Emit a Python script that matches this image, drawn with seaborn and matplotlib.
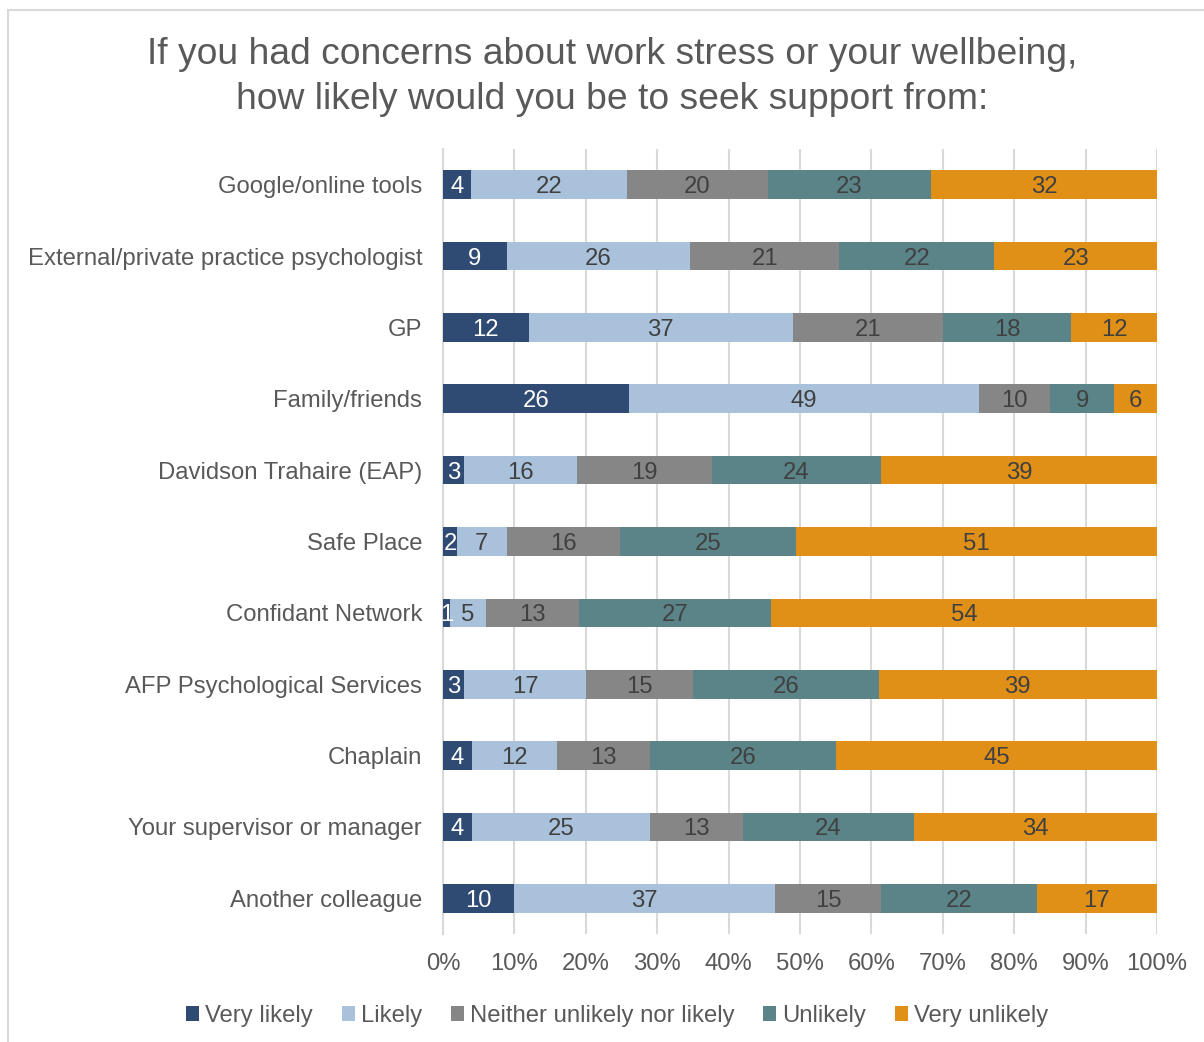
import numpy as np
import pandas as pd
import matplotlib
matplotlib.use("Agg")
import matplotlib.pyplot as plt
from matplotlib.patches import Patch, Rectangle
import seaborn as sns

# Survey items (top to bottom) and response counts in percent
items = [
    "Google/online tools",
    "External/private practice psychologist",
    "GP",
    "Family/friends",
    "Davidson Trahaire (EAP)",
    "Safe Place",
    "Confidant Network",
    "AFP Psychological Services",
    "Chaplain",
    "Your supervisor or manager",
    "Another colleague",
]
levels = ["Very likely", "Likely", "Neither unlikely nor likely", "Unlikely", "Very unlikely"]

very_likely = [4, 9, 12, 26, 3, 2, 1, 3, 4, 4, 10]
likely = [22, 26, 37, 49, 16, 7, 5, 17, 12, 25, 37]
neither = [20, 21, 21, 10, 19, 16, 13, 15, 13, 13, 15]
unlikely = [23, 22, 18, 9, 24, 25, 27, 26, 26, 24, 22]
very_unlikely = [32, 23, 12, 6, 39, 51, 54, 39, 45, 34, 17]

colors = ["#2F4B73", "#A9C1DA", "#868686", "#5A8487", "#E08F17"]
label_colors = ["white", "#404040", "#404040", "#404040", "#404040"]

sns.set_theme(style="white")
plt.rcParams["font.family"] = ["Liberation Sans", "DejaVu Sans"]

FS = 17.2

values = np.array([very_likely, likely, neither, unlikely, very_unlikely], dtype=float)
shares = values / values.sum(axis=0) * 100
cum = np.cumsum(shares, axis=0)

fig = plt.figure(figsize=(12.04, 10.42), dpi=100)
ax = fig.add_axes([443 / 1204, 1 - 934 / 1042, (1157 - 443) / 1204, (934 - 149) / 1042])

# Stacked bars: draw cumulative totals from the outermost segment inward
for i in range(len(levels) - 1, -1, -1):
    df = pd.DataFrame({"item": items, "cum": cum[i]})
    sns.barplot(data=df, x="cum", y="item", order=items, color=colors[i],
                saturation=1, width=0.4, ax=ax, linewidth=0, zorder=3)

# Segment value labels
for i in range(len(levels)):
    left = cum[i] - shares[i]
    for j, item in enumerate(items):
        ax.text(left[j] + shares[i][j] / 2, j, f"{int(values[i][j])}",
                ha="center", va="center_baseline", fontsize=FS,
                color=label_colors[i], zorder=4)

ax.set_xlim(0, 100)
ax.set_ylim(len(items) - 0.5, -0.5)
ax.set_xticks(np.arange(0, 101, 10))
ax.set_xticklabels([f"{t}%" for t in range(0, 101, 10)], fontsize=FS, color="#595959")
ax.tick_params(axis="y", labelsize=FS, labelcolor="#595959", length=0, pad=15)
ax.tick_params(axis="x", length=0, pad=14)
ax.set_xlabel("")
ax.set_ylabel("")
ax.xaxis.grid(True, color="#D9D9D9", linewidth=1.5, zorder=0)
ax.yaxis.grid(False)
ax.set_axisbelow(True)
for side in ["top", "right", "bottom"]:
    ax.spines[side].set_visible(False)
ax.spines["left"].set_color("#D9D9D9")
ax.spines["left"].set_linewidth(1.5)

fig.text(612 / 1204, 1 - 77 / 1042,
         "If you had concerns about work stress or your wellbeing,\nhow likely would you be to seek support from:",
         ha="center", va="center", fontsize=26.8, color="#595959", linespacing=1.36)

handles = [Patch(facecolor=c, edgecolor="none", label=l) for c, l in zip(colors, levels)]
fig.legend(handles=handles, loc="center", bbox_to_anchor=(617 / 1204, 1 - 1016 / 1042),
           ncol=5, frameon=False, fontsize=FS, handlelength=0.55, handleheight=0.55,
           handletextpad=0.25, columnspacing=1.2, labelcolor="#595959")

# Chart frame
fig.patches.append(Rectangle((8 / 1204, -0.05), 1.1, 1 - 10 / 1042 + 0.05,
                             transform=fig.transFigure, fill=False,
                             edgecolor="#D9D9D9", linewidth=1.5))

fig.savefig("out.png", dpi=100, facecolor="white")
